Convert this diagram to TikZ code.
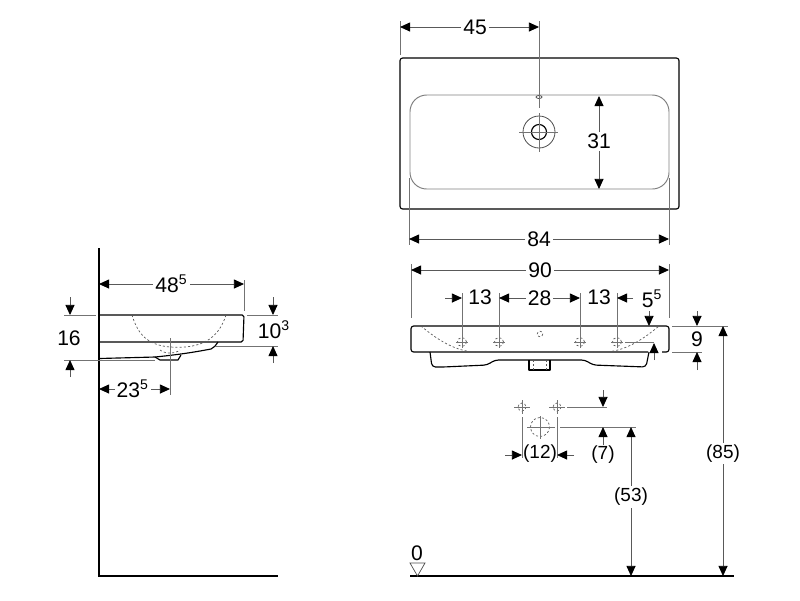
\documentclass[tikz,border=0pt]{standalone}
\usepackage{fontspec}
\setmainfont{Liberation Sans}
\usetikzlibrary{arrows.meta}
\tikzset{
  outline/.style={black, line width=0.65pt, line join=round},
  thinline/.style={black!70, line width=0.45pt},
  hidden/.style={black!65, line width=0.4pt, dash pattern=on 1.2pt off 1.2pt},
  helpline/.style={black!55, line width=0.5pt},
  dimline/.style={black!65, line width=0.5pt, >={Triangle[black,length=5.8pt,width=5.2pt]}},
  dimtext/.style={fill=white, text=black, inner sep=1.2pt, font=\fontsize{12}{14}\selectfont},
  freetext/.style={inner sep=0pt, text=black, font=\fontsize{12}{14}\selectfont},
  bracketfont/.style={font=\fontsize{10.8}{13}\selectfont},
  holemark/.style={black!55, line width=0.45pt}
}
\begin{document}
\begin{tikzpicture}[x=0.02cm,y=-0.02cm]
    \useasboundingbox (0,0) rectangle (800,600);

    % Top view
    \coordinate (TL) at (400,58);
    \coordinate (BR) at (679,209);
    \coordinate (tap) at (539,132);
    \draw[outline, rounded corners=1.5pt] (TL) rectangle (BR);
    \draw[black!50, line width=0.55pt, rounded corners=9.5pt] (410,95) rectangle (669,189);
    \draw[thinline, fill=white] (tap) circle (16);
    \draw[outline] (tap) circle (7.5);
    \draw[holemark] (519,132) -- (558,132);
    \draw[holemark] (539,113) -- (539,152);
    \draw[thinline, fill=white] (539,97) ellipse (3 and 1.5);

    % Top view, dimensions
    \draw[helpline] (400,21) -- (400,55);
    \draw[helpline] (539,21) -- (539,108);
    \draw[helpline] (409,178) -- (409,245);
    \draw[helpline] (669,178) -- (669,245);
    \draw[dimline, <->] (400,27) -- (539,27) node[dimtext, pos=.54] (d45) {45};
    \draw[dimline, <->] (599,96) -- (599,189) node[dimtext, pos=.485] (d31) {31};
    \draw[dimline, <->] (409,239) -- (669,239) node[dimtext, midway] (d84) {84};

    % Front view
    \coordinate (F) at (411,326);
    \draw[outline, rounded corners=1.5pt] (648,352) -- (411,352) -- (F) -- (669,326) -- (669,352) -- (662,352);
    \draw[outline, rounded corners=2pt] (430,352) -- (432,367) -- (443,367) -- (487,365) -- (495,360)
        -- (585,360) -- (593,365) -- (646,367) -- (649,352);
    \draw[outline] (529,360) -- (529,370) -- (550,370) -- (550,360);
    \draw[hidden] (421,326) .. controls (440,342) and (458,352) .. (477,352) -- (603,352)
        .. controls (622,352) and (640,342) .. (659,326);
    \draw[hidden] (533,360) -- (533,370) (546,360) -- (546,370);
    \draw[hidden] (540,334) circle (2.8);
    \foreach \hx in {462,499,580,617} {
        \draw[hidden] (\hx,342) circle (4.5);
        \draw[holemark] (\hx-6,342) -- (\hx+6,342);
        \draw[holemark] (\hx,336) -- (\hx,348);
    }

    % Front view, dimensions
    \draw[helpline] (411,264) -- (411,318);
    \draw[helpline] (669,264) -- (669,318);
    \foreach \hx in {462,499,580,617}
        \draw[helpline] (\hx,293) -- (\hx,336);
    \draw[dimline, <->] (411,270) -- (669,270) node[dimtext, midway] (d90) {90};
    \draw[dimline, ->] (445,298) -- (462,298);
    \node[freetext] (d13a) at (480,297) {13};
    \draw[dimline, <->] (499,298) -- (580,298) node[dimtext, midway] (d28) {28};
    \node[freetext] (d13b) at (599,297) {13};
    \draw[dimline, ->] (633,298) -- (617,298);
    \node[freetext] (d55) at (652,299) {5\textsuperscript{5}};
    \draw[dimline, ->] (649,311) -- (649,326);
    \draw[helpline] (625,342) -- (654,342);
    \draw[dimline, ->] (654,360) -- (654,343);

    % Height dimensions
    \draw[helpline] (672,326) -- (728,326);
    \draw[helpline] (672,352) -- (702,352);
    \draw[dimline, ->] (697,311) -- (697,326);
    \node[freetext] (d9) at (697,339) {9};
    \draw[dimline, ->] (697,370) -- (697,352);
    \draw[dimline, <->] (723,326) -- (723,576) node[dimtext, bracketfont, pos=.51] (d85) {(85)};

    % Fixing points
    \foreach \hx in {522,557} {
        \draw[hidden] (\hx,407) circle (4);
        \draw[holemark] (\hx-8,407) -- (\hx+8,407);
        \draw[holemark] (\hx,400) -- (\hx,414);
    }
    \draw[hidden] (540,427) circle (9.5);
    \draw[holemark] (527,427) -- (555,427);
    \draw[holemark] (540,416) -- (540,439);
    \draw[helpline] (522,417) -- (522,458);
    \draw[helpline] (557,417) -- (557,458);
    \draw[helpline] (567,407) -- (607,407);
    \draw[helpline] (560,427) -- (636,427);
    \draw[dimline, ->] (505,455) -- (522,455);
    \draw[dimline, ->] (574,455) -- (557,455);
    \node[freetext, bracketfont] (d12) at (540,454) {(12)};
    \draw[dimline, ->] (603,390) -- (603,407);
    \draw[dimline, ->] (603,445) -- (603,427);
    \node[freetext, bracketfont] (d7) at (603,455) {(7)};
    \draw[dimline, <->] (631,427) -- (631,576) node[dimtext, bracketfont, pos=.47] (d53) {(53)};

    % Floor level
    \draw[black, line width=0.85pt] (410,576) -- (734,576);
    \draw[black!70, line width=0.4pt] (410,563) -- (425,563) -- (417.5,576) -- cycle;
    \node[freetext] (d0) at (417,553) {0};

    % Side view
    \draw[black, line width=0.85pt] (99,248) -- (99,576) -- (278,576);
    \draw[outline, rounded corners=1pt] (99,315) -- (244,315) -- (243,342) -- (99,342);
    \draw[outline] (99,358.5) -- (155,357) .. controls (185,354) and (200,351) .. (211,349)
        .. controls (214,348) and (216,345) .. (218,342);
    \draw[outline] (155,357) -- (160,360) -- (178,360) -- (181,355);
    \draw[hidden] (132,315) .. controls (138,335) and (148,345) .. (170,347)
        .. controls (200,349) and (218,340) .. (226,315);
    \draw[hidden] (160,350) .. controls (165,354) and (175,354) .. (180,350);

    % Side view, dimensions
    \draw[helpline] (244,280) -- (244,311);
    \draw[helpline] (64,315) -- (96,315);
    \draw[helpline] (64,360) -- (155,360);
    \draw[helpline] (247,315) -- (278,315);
    \draw[helpline] (215,346) -- (278,346);
    \draw[helpline] (170,338) -- (170,395);
    \draw[dimline, <->] (99,284) -- (244,284) node[dimtext, midway] (d485) {48\textsuperscript{5}};
    \draw[dimline, ->] (70,297) -- (70,315);
    \draw[dimline, ->] (70,377) -- (70,360);
    \node[freetext] (d16) at (69,338) {16};
    \draw[dimline, ->] (273,297) -- (273,315);
    \draw[dimline, ->] (273,363) -- (273,346);
    \node[freetext] (d103) at (274,330) {10\textsuperscript{3}};
    \draw[dimline, <->] (99,389) -- (170,389) node[dimtext, midway, xshift=-1pt] (d235) {23\textsuperscript{5}};
\end{tikzpicture}
\end{document}
